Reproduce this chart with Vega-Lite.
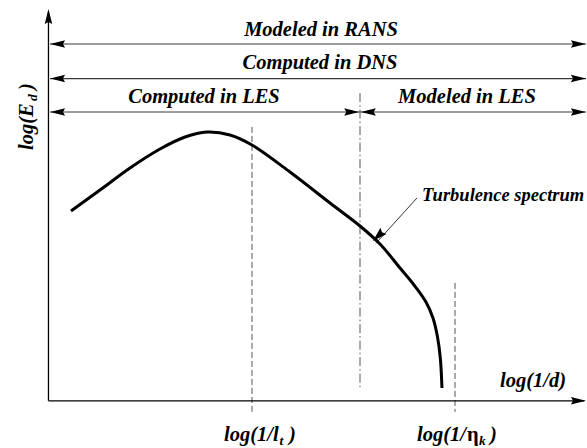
{
  "$schema": "https://vega.github.io/schema/vega-lite/v6.json",
  "width": 587,
  "height": 448,
  "autosize": {"type": "none"},
  "padding": 0,
  "background": "white",
  "config": {"view": {"stroke": null}},
  "datasets": {
    "axes": [
      {"x": 0, "y": 0, "x2": 0, "y2": 99},
      {"x": 0, "y": 0, "x2": 99.5, "y2": 0}
    ],
    "rows": [
      {"x": 0.3, "y": 90.8, "x2": 99.8, "y2": 90.8},
      {"x": 0.3, "y": 82.0, "x2": 99.8, "y2": 82.0},
      {"x": 0.3, "y": 73.5, "x2": 57.85, "y2": 73.5},
      {"x": 57.85, "y": 73.5, "x2": 99.8, "y2": 73.5}
    ],
    "dashed": [
      {"x": 37.79, "y": 69.7, "x2": 37.79, "y2": -2.8},
      {"x": 75.49, "y": 30.0, "x2": 75.49, "y2": -2.8}
    ],
    "dashdot": [
      {"x": 57.85, "y": 78.3, "x2": 57.85, "y2": 3.5}
    ],
    "pointer": [
      {"x": 68.43, "y": 51.62, "x2": 60.8, "y2": 40.1}
    ],
    "spectrum": [
      {"k": 4.18, "e": 48.31},
      {"k": 9.57, "e": 53.65},
      {"k": 15.14, "e": 59.25},
      {"k": 20.71, "e": 64.08},
      {"k": 25.35, "e": 67.14},
      {"k": 29.44, "e": 68.41},
      {"k": 33.71, "e": 67.65},
      {"k": 37.79, "e": 65.1},
      {"k": 44.85, "e": 58.23},
      {"k": 52.28, "e": 50.34},
      {"k": 57.85, "e": 44.49},
      {"k": 61.56, "e": 39.91},
      {"k": 65.28, "e": 33.8},
      {"k": 67.88, "e": 29.48},
      {"k": 70.1, "e": 25.15},
      {"k": 71.4, "e": 21.08},
      {"k": 72.24, "e": 16.25},
      {"k": 72.76, "e": 10.9},
      {"k": 73.07, "e": 3.27}
    ],
    "heads": [
      {"x": 0, "y": 99.7, "dir": 270},
      {"x": 99.8, "y": 0, "dir": 0},
      {"x": 0.3, "y": 90.8, "dir": 180},
      {"x": 99.8, "y": 90.8, "dir": 0},
      {"x": 0.3, "y": 82.0, "dir": 180},
      {"x": 99.8, "y": 82.0, "dir": 0},
      {"x": 0.3, "y": 73.5, "dir": 180},
      {"x": 57.7, "y": 73.5, "dir": 0},
      {"x": 58.0, "y": 73.5, "dir": 180},
      {"x": 99.8, "y": 73.5, "dir": 0}
    ],
    "pointerhead": [
      {"x": 60.26, "y": 40.67, "dir": 136}
    ],
    "titles": [
      {"x": 50.61, "y": 92.84, "label": "Modeled in RANS"},
      {"x": 50.42, "y": 84.44, "label": "Computed in DNS"},
      {"x": 28.88, "y": 75.79, "label": "Computed in LES"},
      {"x": 77.72, "y": 75.79, "label": "Modeled in LES"}
    ],
    "leftlabels": [
      {"x": 83.85, "y": 3.52, "label": "log(1/d)"},
      {"x": 32.59, "y": -10.22, "label": "log(1/l"},
      {"x": 44.66, "y": -10.22, "label": ")"},
      {"x": 68.43, "y": -10.22, "label": "log(1/"},
      {"x": 81.99, "y": -10.22, "label": ")"}
    ],
    "greek": [
      {"x": 77.72, "y": -10.22, "label": "η"}
    ],
    "subs": [
      {"x": 42.9, "y": -11.24, "label": "t"},
      {"x": 79.95, "y": -11.24, "label": "k"}
    ],
    "note": [
      {"x": 69.36, "y": 50.85, "label": "Turbulence spectrum"}
    ],
    "ylabel": [
      {"x": -2.87, "y": 63.83, "label": "log(E"},
      {"x": -2.87, "y": 79.1, "label": ")"}
    ],
    "ysub": [
      {"x": -2.13, "y": 76.3, "label": "d"}
    ]
  },
  "encoding": {
    "x": {"field": "x", "type": "quantitative", "axis": null, "scale": {"domain": [-9, 100], "nice": false, "zero": false}},
    "y": {"field": "y", "type": "quantitative", "axis": null, "scale": {"domain": [-12, 102], "nice": false, "zero": false}}
  },
  "layer": [
    {
      "data": {"name": "rows"},
      "mark": {"type": "rule", "color": "#3a3a3a", "strokeWidth": 1.1},
      "encoding": {"x2": {"field": "x2"}, "y2": {"field": "y2"}}
    },
    {
      "data": {"name": "dashed"},
      "mark": {"type": "rule", "color": "#555555", "strokeWidth": 1, "strokeDash": [6, 3]},
      "encoding": {"x2": {"field": "x2"}, "y2": {"field": "y2"}}
    },
    {
      "data": {"name": "dashdot"},
      "mark": {"type": "rule", "color": "#555555", "strokeWidth": 1, "strokeDash": [9, 3, 1.5, 3]},
      "encoding": {"x2": {"field": "x2"}, "y2": {"field": "y2"}}
    },
    {
      "data": {"name": "axes"},
      "mark": {"type": "rule", "color": "#000000", "strokeWidth": 1.3},
      "encoding": {"x2": {"field": "x2"}, "y2": {"field": "y2"}}
    },
    {
      "data": {"name": "pointer"},
      "mark": {"type": "rule", "color": "#333333", "strokeWidth": 1},
      "encoding": {"x2": {"field": "x2"}, "y2": {"field": "y2"}}
    },
    {
      "data": {"name": "spectrum"},
      "mark": {"type": "line", "color": "#000000", "strokeWidth": 3, "interpolate": "catmull-rom"},
      "encoding": {
        "x": {"field": "k", "type": "quantitative"},
        "y": {"field": "e", "type": "quantitative"}
      }
    },
    {
      "data": {"name": "heads"},
      "mark": {"type": "point", "shape": "M0,0 L-1,-0.25 L-0.86,0 L-1,0.25 Z", "size": 900, "filled": true, "color": "#000000", "opacity": 1, "strokeWidth": 0},
      "encoding": {"angle": {"field": "dir", "type": "quantitative", "scale": null}}
    },
    {
      "data": {"name": "pointerhead"},
      "mark": {"type": "point", "shape": "M0,0 L-1,-0.3 L-0.86,0 L-1,0.3 Z", "size": 850, "filled": true, "color": "#000000", "opacity": 1, "strokeWidth": 0},
      "encoding": {"angle": {"field": "dir", "type": "quantitative", "scale": null}}
    },
    {
      "data": {"name": "titles"},
      "mark": {"type": "text", "font": "Liberation Serif", "fontStyle": "italic", "fontWeight": "bold", "fontSize": 20.5, "align": "center", "baseline": "alphabetic", "color": "#000000"},
      "encoding": {"text": {"field": "label"}}
    },
    {
      "data": {"name": "leftlabels"},
      "mark": {"type": "text", "font": "Liberation Serif", "fontStyle": "italic", "fontWeight": "bold", "fontSize": 20.5, "align": "left", "baseline": "alphabetic", "color": "#000000"},
      "encoding": {"text": {"field": "label"}}
    },
    {
      "data": {"name": "greek"},
      "mark": {"type": "text", "font": "Liberation Serif", "fontWeight": "bold", "fontSize": 20.5, "align": "left", "baseline": "alphabetic", "color": "#000000"},
      "encoding": {"text": {"field": "label"}}
    },
    {
      "data": {"name": "subs"},
      "mark": {"type": "text", "font": "Liberation Serif", "fontStyle": "italic", "fontWeight": "bold", "fontSize": 13.5, "align": "left", "baseline": "alphabetic", "color": "#000000"},
      "encoding": {"text": {"field": "label"}}
    },
    {
      "data": {"name": "note"},
      "mark": {"type": "text", "font": "Liberation Serif", "fontStyle": "italic", "fontWeight": "bold", "fontSize": 18.5, "align": "left", "baseline": "alphabetic", "color": "#000000"},
      "encoding": {"text": {"field": "label"}}
    },
    {
      "data": {"name": "ylabel"},
      "mark": {"type": "text", "font": "Liberation Serif", "fontStyle": "italic", "fontWeight": "bold", "fontSize": 20.5, "align": "left", "baseline": "alphabetic", "angle": 270, "color": "#000000"},
      "encoding": {"text": {"field": "label"}}
    },
    {
      "data": {"name": "ysub"},
      "mark": {"type": "text", "font": "Liberation Serif", "fontStyle": "italic", "fontWeight": "bold", "fontSize": 13.5, "align": "left", "baseline": "alphabetic", "angle": 270, "color": "#000000"},
      "encoding": {"text": {"field": "label"}}
    }
  ]
}
